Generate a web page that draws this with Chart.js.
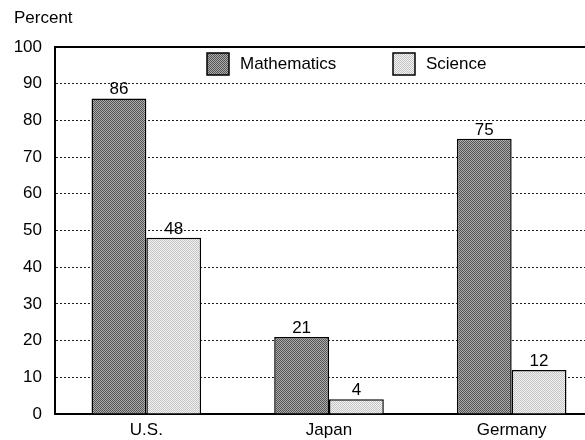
<!DOCTYPE html>
<html>
<head>
<meta charset="utf-8">
<title>Percent by country</title>
<script src="https://cdn.jsdelivr.net/npm/chart.js@4/dist/chart.umd.min.js"></script>
<style>
  html, body { margin: 0; padding: 0; background: #fff; overflow: hidden; }
  #wrap { width: 603px; height: 440px; }
</style>
</head>
<body>
<div id="wrap"><canvas id="chart" width="603" height="440"></canvas></div>
<script>
/* global Chart */
const countries = ["U.S.", "Japan", "Germany"];
const mathValues = [86, 21, 75];
const scienceValues = [48, 4, 12];
const yTicks = [0, 10, 20, 30, 40, 50, 60, 70, 80, 90, 100];

const FONT = "Arial, 'Liberation Sans', Helvetica, sans-serif";
const SIZE = 17;

// stipple fill, like a halftone screen
function makePattern(dark, light) {
  const c = document.createElement("canvas");
  c.width = 4; c.height = 4;
  const g = c.getContext("2d");
  g.fillStyle = light;
  g.fillRect(0, 0, 4, 4);
  g.fillStyle = dark;
  for (let y = 0; y < 4; y++) {
    for (let x = 0; x < 4; x++) {
      if ((x + y) % 2 === 0) g.fillRect(x, y, 1, 1);
    }
  }
  return document.getElementById("chart").getContext("2d").createPattern(c, "repeat");
}

const mathFill = makePattern("#555555", "#ababab");
const sciFill = makePattern("#c4c4c4", "#f2f2f2");

// value on top of every bar
const valueLabels = {
  id: "valueLabels",
  afterDatasetsDraw(chart) {
    const ctx = chart.ctx;
    ctx.save();
    ctx.font = SIZE + "px " + FONT;
    ctx.fillStyle = "#000";
    ctx.textAlign = "center";
    ctx.textBaseline = "alphabetic";
    chart.data.datasets.forEach((ds, i) => {
      chart.getDatasetMeta(i).data.forEach((bar, j) => {
        ctx.fillText(String(ds.data[j]), bar.x, bar.y - 4);
      });
    });
    ctx.restore();
  }
};

// frame line at 100, "Percent" caption and the in-plot legend
const decorations = {
  id: "decorations",
  beforeDatasetsDraw(chart) {
    const { ctx, chartArea } = chart;
    ctx.save();
    ctx.strokeStyle = "#000";
    ctx.lineWidth = 2;
    ctx.beginPath();
    ctx.moveTo(chartArea.left, chartArea.top);
    ctx.lineTo(chartArea.right, chartArea.top);
    ctx.stroke();
    ctx.restore();
  },
  afterDraw(chart) {
    const { ctx, chartArea } = chart;
    ctx.save();
    ctx.fillStyle = "#000";
    ctx.font = SIZE + "px " + FONT;
    ctx.textAlign = "left";
    ctx.textBaseline = "middle";
    ctx.fillText("Percent", chartArea.left - 41, chartArea.top - 29);

    const items = [
      { label: "Mathematics", fill: mathFill, x: chartArea.left + 152 },
      { label: "Science", fill: sciFill, x: chartArea.left + 338 }
    ];
    const cy = chartArea.top + 17;
    items.forEach(it => {
      ctx.fillStyle = it.fill;
      ctx.fillRect(it.x, cy - 11, 22, 22);
      ctx.strokeStyle = "#000";
      ctx.lineWidth = 1.5;
      ctx.strokeRect(it.x, cy - 11, 22, 22);
      ctx.fillStyle = "#000";
      ctx.fillText(it.label, it.x + 33, cy);
    });
    ctx.restore();
  }
};

new Chart(document.getElementById("chart"), {
  type: "bar",
  data: {
    labels: countries,
    datasets: [
      { label: "Mathematics", data: mathValues, backgroundColor: mathFill, borderColor: "#000", borderWidth: 1.5 },
      { label: "Science", data: scienceValues, backgroundColor: sciFill, borderColor: "#000", borderWidth: 1.5 }
    ]
  },
  options: {
    responsive: false,
    animation: false,
    devicePixelRatio: 1,
    layout: { padding: { left: 14, top: 47, right: 0, bottom: 0 } },
    plugins: { legend: { display: false }, tooltip: { enabled: false } },
    datasets: { bar: { categoryPercentage: 0.6, barPercentage: 1.0 } },
    scales: {
      x: {
        afterFit(axis) { axis.height = 26; },
        grid: { display: false, drawTicks: false },
        border: { display: true, color: "#000", width: 2 },
        ticks: { color: "#000", font: { family: FONT, size: SIZE }, padding: 6 }
      },
      y: {
        min: 0,
        max: 100,
        afterFit(axis) { axis.width = 41; },
        afterBuildTicks(axis) { axis.ticks = yTicks.map(v => ({ value: v })); },
        grid: {
          drawTicks: false,
          color: (c) => (c.tick && (c.tick.value === 0 || c.tick.value === 100)) ? "rgba(0,0,0,0)" : "#222",
          lineWidth: 1
        },
        // dash here applies to the grid lines (dotted)
        border: { display: true, color: "#000", width: 2, dash: [2, 2] },
        ticks: { color: "#000", font: { family: FONT, size: SIZE }, padding: 13 }
      }
    }
  },
  plugins: [valueLabels, decorations]
});
</script>
</body>
</html>
